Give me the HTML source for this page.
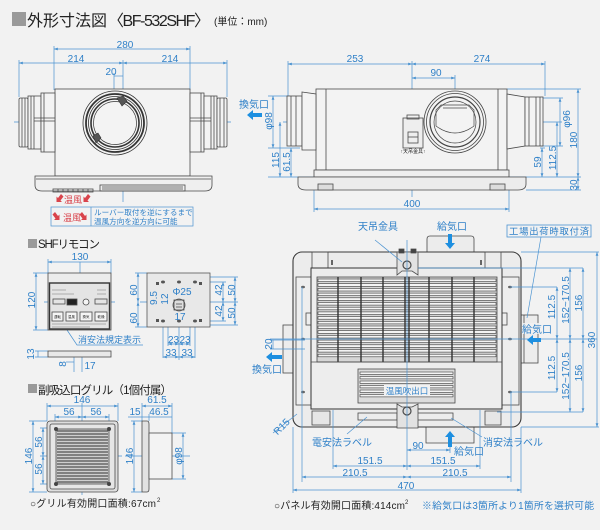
<!DOCTYPE html>
<html><head><meta charset="utf-8"><style>
html,body{margin:0;padding:0;background:#f2f2f2;}
svg{display:block;}
.d{stroke:#4b93d1;stroke-width:.7;fill:none}
.m{marker-start:url(#a);marker-end:url(#a)}
.o{stroke:#4a4a4a;stroke-width:.8;fill:none}
.t{fill:#2f80c8;font-size:10px;text-anchor:middle}
.k{fill:#222}
.r{fill:#d9434b}
</style></head><body>
<svg width="600" height="530" viewBox="0 0 600 530" xmlns="http://www.w3.org/2000/svg" font-family="Liberation Sans, Noto Sans CJK JP, sans-serif">
<defs><marker id="a" markerWidth="4" markerHeight="4" refX="3.8" refY="2" orient="auto-start-reverse" markerUnits="userSpaceOnUse"><path d="M0,.6 L4,2 L0,3.4z" fill="#4b93d1"/></marker></defs>
<rect width="600" height="530" fill="#f2f2f2"/>

<!-- HEADER -->
<rect x="12" y="12" width="14" height="14" fill="#9a9a9a"/>
<text x="27" y="26" font-size="16" class="k">外形寸法図</text>
<text x="108" y="26" font-size="16" class="k" textLength="102">〈BF-532SHF〉</text>
<text x="214" y="25" font-size="10" class="k">(単位：mm)</text>

<!-- ========== TOP LEFT FRONT VIEW ========== -->
<g class="d">
<path d="M54,46V90 M190,46V90 M19,60V97 M227,60V97 M114,73V92 M123,60V202"/>
<line class="m" x1="54" y1="49" x2="190" y2="49"/>
<line class="m" x1="19" y1="63" x2="123" y2="63"/>
<line class="m" x1="123" y1="63" x2="227" y2="63"/>
<line x1="114" y1="76" x2="123" y2="76"/>
<path d="M14,122H32 M78,122H150 M183,122H231"/>
</g>
<text class="t" x="125" y="48">280</text>
<text class="t" x="76" y="62">214</text>
<text class="t" x="170" y="62">214</text>
<text class="t" x="111" y="75">20</text>

<g class="o" fill="#f4f4f4">
<rect x="55" y="89" width="135" height="87" fill="#f3f3f3"/>
<rect x="19" y="98" width="9" height="49" rx="1.5" fill="#f3f3f3"/>
<rect x="28" y="96" width="13" height="53" fill="#f3f3f3"/>
<rect x="41" y="93" width="14" height="59" fill="#f3f3f3"/>
<path d="M22,98V147 M25,98V147 M31,96V149 M34,96V149 M34,118H55 M34,121H55 M44,93V152"/>
<rect x="190" y="93" width="14" height="59" fill="#f3f3f3"/>
<rect x="204" y="96" width="13" height="53" fill="#f3f3f3"/>
<rect x="217" y="98" width="10" height="49" rx="1.5" fill="#f3f3f3"/>
<path d="M201,93V152 M211,96V149 M214,96V149 M220,98V147 M224,98V147 M190,118H211 M190,121H211"/>
<path d="M35,176H212V185Q212,191 205,191H42Q35,191 35,185Z" fill="#efefef"/>
<path d="M36,179H211"/>
<rect x="53" y="189" width="40" height="3"/>
<path d="M58,189v3M63,189v3M68,189v3M73,189v3M78,189v3M83,189v3M88,189v3"/>
<rect x="100" y="185" width="85" height="6"/>
<path d="M102,187H183M102,189H183"/>
</g>
<g fill="none" stroke="#333">
<circle cx="115" cy="123" r="32" stroke-width=".8" fill="#f3f3f3"/>
<circle cx="115" cy="123" r="29" stroke-width="1.8"/>
<circle cx="115" cy="123" r="26.5" stroke-width=".8"/>
<circle cx="115" cy="123" r="24" stroke-width="1.6"/>
<circle cx="115" cy="123" r="21.5" stroke-width=".7"/>
<path d="M117,98l6,-2l4,5l-5,5z" fill="#555" stroke-width=".6"/>
<path d="M93,136l5,-3l3,5l-5,5z" fill="#555" stroke-width=".6"/>
</g>
<g class="r">
<path d="M61,194l-3,4l-1.5,-1.5l0,5.5l5.5,0l-1.5,-1.5l3,-4z"/>
<path d="M88,194l-3,4l-1.5,-1.5l0,5.5l5.5,0l-1.5,-1.5l3,-4z"/>
<path d="M55,212l3,4l1.5,-1.5l0,5.5l-5.5,0l1.5,-1.5l-3,-4z"/>
<path d="M82,212l3,4l1.5,-1.5l0,5.5l-5.5,0l1.5,-1.5l-3,-4z"/>
</g>
<text x="64" y="203" font-size="9" class="r">温風</text>
<rect x="51" y="207" width="142" height="19" class="d" stroke-width=".8"/>
<line x1="91" y1="207" x2="91" y2="226" class="d"/>
<text x="63" y="221" font-size="9" class="r">温風</text>
<text x="94" y="215" font-size="7.6" fill="#2f80c8">ルーバー取付を逆にするまで</text>
<text x="94" y="224" font-size="7.6" fill="#2f80c8">温風方向を逆方向に可能</text>

<!-- ========== TOP RIGHT SIDE VIEW ========== -->
<g class="d">
<path d="M288,61V96 M545,61V96 M412,61V197 M455,75V91"/>
<line class="m" x1="288" y1="64" x2="412" y2="64"/>
<line class="m" x1="412" y1="64" x2="545" y2="64"/>
<line class="m" x1="412" y1="78" x2="455" y2="78"/>
<path d="M283,122H325 M432,122H480 M500,122H562"/>
<path d="M268,96H290 M268,148H300 M388,119H403"/>
<line class="m" x1="273" y1="96" x2="273" y2="148"/>
<line class="m" x1="280" y1="122" x2="280" y2="177"/>
<line class="m" x1="291" y1="148" x2="291" y2="177"/>
<line class="m" x1="390" y1="119" x2="390" y2="177"/>
<path d="M268,177H314 M509,177H581 M507,89H581 M526,190H581 M540,98H563 M540,146H563 M540,148H545"/>
<line class="m" x1="560" y1="98" x2="560" y2="146"/>
<line class="m" x1="542" y1="148" x2="542" y2="177"/>
<line class="m" x1="557" y1="122" x2="557" y2="177"/>
<line class="m" x1="578" y1="89" x2="578" y2="177"/>
<line class="m" x1="578" y1="177" x2="578" y2="190"/>
<path d="M314,190V212 M509,190V212"/>
<line class="m" x1="314" y1="209" x2="509" y2="209"/>
</g>
<text class="t" x="355" y="62">253</text>
<text class="t" x="482" y="62">274</text>
<text class="t" x="436" y="76">90</text>
<text class="t" x="412" y="207">400</text>
<text class="t" transform="translate(272,121) rotate(-90)">φ98</text>
<text class="t" transform="translate(279,160) rotate(-90)">115</text>
<text class="t" transform="translate(290,162) rotate(-90)">61.5</text>
<text class="t" transform="translate(389,146) rotate(-90)">132</text>
<text class="t" transform="translate(570,119) rotate(-90)">φ96</text>
<text class="t" transform="translate(541,162) rotate(-90)">59</text>
<text class="t" transform="translate(556,158) rotate(-90)">112.5</text>
<text class="t" transform="translate(577,140) rotate(-90)">180</text>
<text class="t" transform="translate(577,185) rotate(-90)">30</text>
<text class="t" x="254" y="108">換気口</text>
<path d="M247,115l6,-5v3h9v4h-9v3z" fill="#1d8fe0"/>

<g class="o">
<rect x="316" y="89" width="191" height="81" fill="#f3f3f3"/>
<path d="M326,89V170 M498,89V170"/>
<rect x="287" y="96" width="15" height="50" fill="#f3f3f3"/>
<path d="M302,92L316,94V150L302,150Z" fill="#f3f3f3"/>
<path d="M291,96V146 M296,96V146"/>
<path d="M507,94L525,97V146L507,149Z" fill="#f3f3f3"/>
<rect x="525" y="97" width="18" height="49" fill="#f3f3f3"/>
<path d="M529,97V146 M536,97V146 M540,97V146"/>
<rect x="314" y="170" width="195" height="7" fill="#efefef"/>
<path d="M298,177H526V184Q526,190 518,190H306Q298,190 298,184Z" fill="#ececec"/>
<rect x="318" y="184" width="15" height="6" fill="#ddd"/>
<rect x="490" y="184" width="15" height="6" fill="#ddd"/>
<rect x="403" y="118" width="20" height="30" fill="#eee"/>
<rect x="407" y="115" width="12" height="4"/>
<rect x="408" y="132" width="10" height="11"/>
<path d="M408,137H418"/>
</g>
<text x="413" y="153" font-size="5" text-anchor="middle" class="k">↑天吊金具↑</text>
<g fill="none" stroke="#444">
<circle cx="455" cy="122" r="31" stroke-width=".8" fill="#f3f3f3"/>
<circle cx="455" cy="122" r="28.5" stroke-width=".8"/>
<circle cx="455" cy="122" r="25" stroke-width="1.2"/>
<circle cx="455" cy="122" r="21" stroke-width=".7"/>
<path d="M441,105H469L474,110V126Q455,140 436,126V110Z" stroke-width=".7"/>
<path d="M443,108H467" stroke-width=".7"/>
</g>

<!-- ========== REMOTE ========== -->
<rect x="28" y="239" width="9" height="9" fill="#9a9a9a"/>
<text x="38" y="248" font-size="11.5" class="k" textLength="62">SHFリモコン</text>
<g class="d">
<path d="M48,259V273 M111,259V273 M33,273H48 M33,330H48 M44,302H115 M80,262V330"/>
<line class="m" x1="48" y1="262" x2="111" y2="262"/>
<line class="m" x1="36" y1="273" x2="36" y2="330"/>
<path d="M35,351H48 M35,357H48 M74,357V372 M82,357V372"/>
<line x1="38" y1="351" x2="38" y2="357"/>
<line x1="66" y1="362" x2="74" y2="362"/>
<path d="M67,330L77,345H143"/>
</g>
<text class="t" x="80" y="260">130</text>
<text class="t" transform="translate(35,300) rotate(-90)">120</text>
<text class="t" transform="translate(34,354) rotate(-90)">13</text>
<text class="t" transform="translate(66,364) rotate(-90)">8</text>
<text class="t" x="90" y="369">17</text>
<text x="78" y="343" font-size="9" fill="#2f80c8">消安法規定表示</text>
<g class="o">
<rect x="48" y="273" width="63" height="57" fill="#ececec"/>
<rect x="49.5" y="283" width="60" height="46" fill="#e4e4e4" stroke="#333" stroke-width="1.4"/>
<rect x="67" y="299" width="10" height="6" fill="#222"/>
<circle cx="86" cy="302" r="3" fill="#f5f5f5"/>
<rect x="52" y="312" width="11" height="9" fill="#f5f5f5"/>
<rect x="66" y="312" width="11" height="9" fill="#f5f5f5"/>
<rect x="80" y="312" width="12" height="9" fill="#f5f5f5"/>
<rect x="95" y="312" width="12" height="9" fill="#f5f5f5"/>
<rect x="53" y="299" width="12" height="5"/>
<rect x="95" y="299" width="12" height="5"/>
<rect x="48" y="351" width="63" height="6" fill="#e8e8e8"/>
</g>
<g stroke="#777" stroke-width=".6">
<path d="M52,290H66M52,294H74M97,290H106M97,294H106M52,324H106M52,327H90"/>
</g>
<g font-size="3.5" class="k" text-anchor="middle">
<text x="57.5" y="318">運転</text><text x="71.5" y="318">温風</text><text x="86" y="318">換気</text><text x="101" y="318">乾燥</text>
</g>
<g class="d">
<path d="M135,273H147 M135,327H147 M140,302H238 M179,273V360"/>
<line class="m" x1="138" y1="273" x2="138" y2="302"/>
<line class="m" x1="138" y1="302" x2="138" y2="327"/>
<path d="M195,282H226 M195,321H226 M200,277H238 M200,325H238"/>
<line class="m" x1="223" y1="282" x2="223" y2="302"/>
<line class="m" x1="223" y1="302" x2="223" y2="321"/>
<line class="m" x1="235" y1="277" x2="235" y2="302"/>
<line class="m" x1="235" y1="302" x2="235" y2="325"/>
<path d="M163,282V358 M168,300V346 M190,300V346 M195,282V358"/>
<line class="m" x1="168" y1="344" x2="179" y2="344"/>
<line class="m" x1="179" y1="344" x2="190" y2="344"/>
<line class="m" x1="163" y1="357" x2="179" y2="357"/>
<line class="m" x1="179" y1="357" x2="195" y2="357"/>
</g>
<g class="o">
<rect x="147" y="273" width="63" height="54" fill="#e8e8e8" stroke="#555"/>
<rect x="174" y="300" width="10" height="10" fill="#ddd"/>
<circle cx="179" cy="305" r="6"/>
<path d="M176,304H182M176,307H182"/>
</g>
<g fill="#555">
<ellipse cx="163" cy="282" rx="2" ry="1.5"/><ellipse cx="179" cy="282" rx="2" ry="1.5"/><ellipse cx="195" cy="282" rx="2" ry="1.5"/>
<ellipse cx="163" cy="321" rx="2" ry="1.5"/><ellipse cx="179" cy="321" rx="2" ry="1.5"/><ellipse cx="195" cy="321" rx="2" ry="1.5"/>
<rect x="156" y="282" width="3" height="3"/><rect x="199" y="282" width="3" height="3"/>
<rect x="156" y="319" width="3" height="3"/><rect x="199" y="319" width="3" height="3"/>
</g>
<text class="t" transform="translate(137,290) rotate(-90)">60</text>
<text class="t" transform="translate(137,318) rotate(-90)">60</text>
<text class="t" transform="translate(157,298) rotate(-90)">9.5</text>
<text class="t" transform="translate(168,299) rotate(-90)">12</text>
<text class="t" x="182" y="295" text-anchor="start">Φ25</text>
<text class="t" x="180" y="320">17</text>
<text class="t" transform="translate(222,290) rotate(-90)">42</text>
<text class="t" transform="translate(222,311) rotate(-90)">42</text>
<text class="t" transform="translate(235,290) rotate(-90)">50</text>
<text class="t" transform="translate(235,313) rotate(-90)">50</text>
<text class="t" x="173.5" y="343">23</text>
<text class="t" x="185" y="343">23</text>
<text class="t" x="171" y="356">33</text>
<text class="t" x="187" y="356">33</text>

<!-- ========== GRILLE ========== -->
<rect x="28" y="384" width="9" height="9" fill="#9a9a9a"/>
<text x="38" y="394" font-size="11.5" class="k" textLength="134">副吸込口グリル（1個付属）</text>
<g class="d">
<path d="M47,403V421 M118,403V421 M55,414V428 M109,414V428 M82,403V495 M40,456H122"/>
<line class="m" x1="47" y1="406" x2="118" y2="406"/>
<line class="m" x1="55" y1="417" x2="82" y2="417"/>
<line class="m" x1="82" y1="417" x2="109" y2="417"/>
<path d="M29,421H47 M29,492H47 M40,428H55 M40,484H55"/>
<line class="m" x1="33" y1="421" x2="33" y2="492"/>
<line class="m" x1="43" y1="428" x2="43" y2="456"/>
<line class="m" x1="43" y1="456" x2="43" y2="484"/>
<path d="M142,403V421 M149,414V421 M172,403V433 M131,421H142 M131,492H142 M172,433H186 M172,479H186 M125,456H190"/>
<line class="m" x1="142" y1="406" x2="172" y2="406"/>
<line x1="128" y1="417" x2="172" y2="417"/>
<line class="m" x1="134" y1="421" x2="134" y2="492"/>
<line class="m" x1="183" y1="433" x2="183" y2="479"/>
</g>
<text class="t" x="82" y="403">146</text>
<text class="t" x="69" y="415">56</text>
<text class="t" x="96" y="415">56</text>
<text class="t" x="157" y="403">61.5</text>
<text class="t" x="135" y="415">15</text>
<text class="t" x="159" y="415">46.5</text>
<text class="t" transform="translate(32,456) rotate(-90)">146</text>
<text class="t" transform="translate(42,442) rotate(-90)">56</text>
<text class="t" transform="translate(42,469) rotate(-90)">56</text>
<text class="t" transform="translate(133,456) rotate(-90)">146</text>
<text class="t" transform="translate(182,456) rotate(-90)">φ98</text>
<g class="o">
<rect x="47" y="421" width="71" height="71" rx="3" fill="#dedede"/>
<rect x="50" y="424" width="65" height="65" rx="2" fill="#e6e6e6"/>
<rect x="56" y="429" width="53" height="55" fill="#cfcfcf"/>
</g>
<g stroke="#333" stroke-width=".9">
<path d="M57,431H108M57,434H108M57,437H108M57,440H108M57,443H108M57,446H108M57,449H108M57,452H108M57,455H108M57,458H108M57,461H108M57,464H108M57,467H108M57,470H108M57,473H108M57,476H108M57,479H108M57,482H108"/>
</g>
<g fill="#444"><circle cx="56" cy="429" r="2"/><circle cx="109" cy="429" r="2"/><circle cx="56" cy="484" r="2"/><circle cx="109" cy="484" r="2"/></g>
<g class="o">
<path d="M142,421H147Q149,421 149,424V489Q149,492 147,492H142Z" fill="#e2e2e2"/>
<rect x="149" y="433" width="23" height="46" fill="#f3f3f3"/>
</g>
<text x="30" y="507" font-size="10" class="k" textLength="126">○グリル有効開口面積:67cm</text>
<text x="157" y="502" font-size="6" class="k">2</text>

<!-- ========== BOTTOM RIGHT PANEL ========== -->
<g class="o">
<path d="M427,252V239Q427,236 430,236H471Q474,236 474,239V252" fill="#ececec"/>
<path d="M426,427V443H474V427" fill="#ececec"/>
<rect x="520" y="315" width="18" height="48" fill="#ececec"/>
<path d="M524,315V363"/>
<rect x="283" y="325" width="10" height="48" fill="#ececec"/>
<rect x="293" y="252" width="228" height="175" rx="9" fill="#ececec" stroke="#3a3a3a" stroke-width="1.1"/>
<rect x="296" y="277" width="15" height="128" fill="#eee"/>
<rect x="502" y="277" width="17" height="128" fill="#eee"/>
<rect x="306" y="313" width="5" height="12"/>
<rect x="502" y="313" width="5" height="12"/>
<rect x="312" y="252" width="16" height="16"/>
<rect x="485" y="252" width="16" height="16"/>
<rect x="311" y="268" width="191" height="141" fill="#ededed" stroke="#333" stroke-width="1"/>
<rect x="317" y="277" width="180" height="85" fill="#d6d6d6"/>
<rect x="358" y="369" width="97" height="34" fill="#dcdcdc"/>
<rect x="312" y="411" width="18" height="14" fill="#e6e6e6"/>
<rect x="485" y="411" width="16" height="14" fill="#e6e6e6"/>
<rect x="358" y="413" width="39" height="7"/>
<rect x="417" y="413" width="36" height="7"/>
</g>
<g stroke="#3a3a3a" stroke-width=".6" fill="#f4f4f4">
<rect x="318" y="279" width="178" height="2.6"/><rect x="318" y="283.7" width="178" height="2.6"/><rect x="318" y="288.4" width="178" height="2.6"/><rect x="318" y="293.1" width="178" height="2.6"/><rect x="318" y="297.8" width="178" height="2.6"/><rect x="318" y="302.5" width="178" height="2.6"/><rect x="318" y="307.2" width="178" height="2.6"/><rect x="318" y="311.9" width="178" height="2.6"/><rect x="318" y="316.6" width="178" height="2.6"/><rect x="318" y="321.3" width="178" height="2.6"/><rect x="318" y="326" width="178" height="2.6"/><rect x="318" y="330.7" width="178" height="2.6"/><rect x="318" y="335.4" width="178" height="2.6"/><rect x="318" y="340.1" width="178" height="2.6"/><rect x="318" y="344.8" width="178" height="2.6"/><rect x="318" y="349.5" width="178" height="2.6"/><rect x="318" y="354.2" width="178" height="2.6"/>
<rect x="360" y="372" width="93" height="2.4"/><rect x="360" y="376.5" width="93" height="2.4"/><rect x="360" y="381" width="93" height="2.4"/><rect x="360" y="385.5" width="93" height="2.4"/><rect x="360" y="390" width="93" height="2.4"/><rect x="360" y="394.5" width="93" height="2.4"/>
</g>
<g stroke="#333" stroke-width="1.4">
<path d="M338,277V362M361,277V362M383,277V362M405,277V362M409,277V362M429,277V362M452,277V362M474,277V362"/>
</g>
<path d="M311,362H502" class="o"/>
<rect x="384" y="385" width="46" height="11" fill="#f2f2f2"/>
<text x="407" y="394" font-size="8.5" fill="#2f80c8" text-anchor="middle">温風吹出口</text>
<g class="o">
<path d="M397,275V252H418V275L412,271H402Z" fill="#e2e2e2"/>
<path d="M399,249h5v4h-5zM411,249h5v4h-5z" fill="#444"/>
<circle cx="407" cy="265" r="4" fill="#ddd" stroke-width="1.2"/>
<path d="M397,404V428H418V404L412,407H402Z" fill="#e2e2e2"/>
<circle cx="407" cy="411" r="4" fill="#ddd" stroke-width="1.2"/>
</g>
<g fill="#666">
<ellipse cx="303" cy="287" rx="2" ry="1.3"/><ellipse cx="303" cy="339" rx="2" ry="1.3"/><ellipse cx="303" cy="392" rx="2" ry="1.3"/>
<ellipse cx="510" cy="287" rx="2" ry="1.3"/><ellipse cx="510" cy="339" rx="2" ry="1.3"/><ellipse cx="510" cy="392" rx="2" ry="1.3"/>
<rect x="331" y="260" width="2" height="5"/><rect x="480" y="260" width="2" height="5"/>
</g>
<g class="d">
<path d="M407,240V470 M270,339H597 M302,287V482 M511,392V482 M293,427V493 M521,427V493"/>
<path d="M510,287H557 M418,268H583 M521,252H599 M510,392H557 M497,412H583 M521,427H599"/>
<line class="m" x1="557" y1="287" x2="557" y2="339"/>
<line class="m" x1="557" y1="339" x2="557" y2="392"/>
<line class="m" x1="570" y1="268" x2="570" y2="339"/>
<line class="m" x1="570" y1="339" x2="570" y2="412"/>
<line class="m" x1="583" y1="268" x2="583" y2="339"/>
<line class="m" x1="583" y1="339" x2="583" y2="412"/>
<line class="m" x1="597" y1="252" x2="597" y2="427"/>
<path d="M270,340H305 M270,349H305"/>
<line x1="273" y1="340" x2="273" y2="349"/>
<path d="M333,410V469 M480,410V469 M450,445V453"/>
<line class="m" x1="407" y1="450" x2="450" y2="450"/>
<line class="m" x1="333" y1="466" x2="407" y2="466"/>
<line class="m" x1="407" y1="466" x2="480" y2="466"/>
<line class="m" x1="302" y1="477" x2="407" y2="477"/>
<line class="m" x1="407" y1="477" x2="511" y2="477"/>
<line class="m" x1="293" y1="490" x2="521" y2="490"/>
<path d="M375,240L402,262 M541,237L527,318 M347,434L367,417 M482,437L451,418 M273,433L297,414"/>
</g>
<rect x="507" y="225" width="84" height="12" fill="#f2f2f2" stroke="#4b93d1" stroke-width=".8"/>
<text x="549" y="234.5" font-size="9.3" fill="#2f80c8" text-anchor="middle" textLength="80">工場出荷時取付済</text>
<text class="t" x="378" y="230">天吊金具</text>
<text class="t" x="452" y="230">給気口</text>
<path d="M450,249l-5,-6h3v-9h4v9h3z" fill="#1d8fe0"/>
<rect x="522" y="323" width="30" height="11" fill="#f2f2f2" opacity=".85"/>
<text class="t" x="537" y="333" font-size="10.5">給気口</text>
<path d="M527,340l6,-5v3h8v4h-8v3z" fill="#1d8fe0"/>
<text class="t" x="267" y="373">換気口</text>
<path d="M266,357l6,-5v3h10v4h-10v3z" fill="#1d8fe0"/>
<text class="t" transform="translate(272,344) rotate(-90)">20</text>
<text class="t" transform="translate(284,429) rotate(-45)">R15</text>
<text class="t" transform="translate(555,307) rotate(-90)">112.5</text>
<text class="t" transform="translate(555,368) rotate(-90)">112.5</text>
<text class="t" transform="translate(569,300) rotate(-90)">152~170.5</text>
<text class="t" transform="translate(569,376) rotate(-90)">152~170.5</text>
<text class="t" transform="translate(582,303) rotate(-90)">156</text>
<text class="t" transform="translate(582,373) rotate(-90)">156</text>
<text class="t" transform="translate(595,340) rotate(-90)">360</text>
<text class="t" x="342" y="446">電安法ラベル</text>
<text class="t" x="513" y="446">消安法ラベル</text>
<text class="t" x="418" y="449">90</text>
<path d="M450,431l-5,6h3v10h4v-10h3z" fill="#1d8fe0"/>
<text class="t" x="469" y="455">給気口</text>
<text class="t" x="370" y="464">151.5</text>
<text class="t" x="443" y="464">151.5</text>
<text class="t" x="355" y="476">210.5</text>
<text class="t" x="455" y="476">210.5</text>
<text class="t" x="406" y="489">470</text>
<text x="274" y="509" font-size="10" class="k" textLength="131">○パネル有効開口面積:414cm</text>
<text x="405" y="504" font-size="6" class="k">2</text>
<text x="422" y="509" font-size="9.8" fill="#2f80c8" textLength="172">※給気口は3箇所より1箇所を選択可能</text>
</svg>
</body></html>
